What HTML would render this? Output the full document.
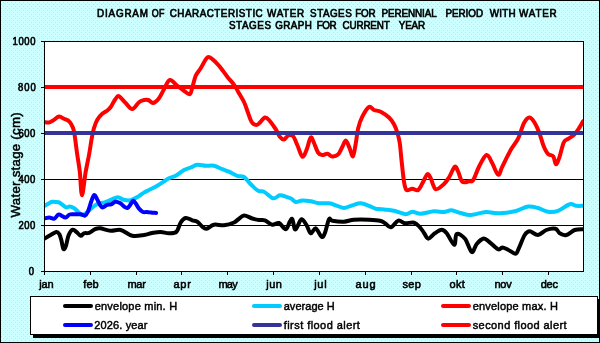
<!DOCTYPE html>
<html><head><meta charset="utf-8"><style>
html,body{margin:0;padding:0;width:600px;height:343px;overflow:hidden;background:#CCFFFF;}
svg{display:block;will-change:transform;}
text{font-family:"Liberation Sans",sans-serif;fill:#000;}
.title{stroke:#000;stroke-width:0.65px;}
.lab{stroke:#000;stroke-width:0.65px;}
.xl{stroke:#000;stroke-width:0.55px;}
.leg{stroke:#000;stroke-width:0.45px;}
.yt{stroke:#000;stroke-width:0.5px;}
</style></head><body>
<svg width="600" height="343" viewBox="0 0 600 343">
<clipPath id="pc"><rect x="45" y="42" width="538" height="229"/></clipPath>
<defs><pattern id="dots" width="4" height="4" patternUnits="userSpaceOnUse"><rect width="4" height="4" fill="#CCFFFF"/><path d="M1,0h1v1h-1zM3,2h1v1h-1z" fill="#BCE8F2"/></pattern></defs>
<rect x="0" y="0" width="600" height="343" fill="url(#dots)"/>
<rect x="0.5" y="0.5" width="599" height="342" fill="none" stroke="#000" stroke-width="1"/>
<rect x="44" y="41" width="539" height="230" fill="#fff"/>
<line x1="41" y1="271.5" x2="583" y2="271.5" stroke="#000" stroke-width="1"/>
<line x1="41" y1="225.5" x2="583" y2="225.5" stroke="#000" stroke-width="1"/>
<line x1="41" y1="179.5" x2="583" y2="179.5" stroke="#000" stroke-width="1"/>
<line x1="41" y1="133.5" x2="583" y2="133.5" stroke="#000" stroke-width="1"/>
<line x1="41" y1="87.5" x2="583" y2="87.5" stroke="#000" stroke-width="1"/>
<line x1="41" y1="41.5" x2="583" y2="41.5" stroke="#000" stroke-width="1"/>
<line x1="44.5" y1="271" x2="44.5" y2="275" stroke="#000" stroke-width="1"/>
<line x1="90.5" y1="271" x2="90.5" y2="275" stroke="#000" stroke-width="1"/>
<line x1="136.5" y1="271" x2="136.5" y2="275" stroke="#000" stroke-width="1"/>
<line x1="181.5" y1="271" x2="181.5" y2="275" stroke="#000" stroke-width="1"/>
<line x1="227.5" y1="271" x2="227.5" y2="275" stroke="#000" stroke-width="1"/>
<line x1="273.5" y1="271" x2="273.5" y2="275" stroke="#000" stroke-width="1"/>
<line x1="319.5" y1="271" x2="319.5" y2="275" stroke="#000" stroke-width="1"/>
<line x1="365.5" y1="271" x2="365.5" y2="275" stroke="#000" stroke-width="1"/>
<line x1="411.5" y1="271" x2="411.5" y2="275" stroke="#000" stroke-width="1"/>
<line x1="456.5" y1="271" x2="456.5" y2="275" stroke="#000" stroke-width="1"/>
<line x1="502.5" y1="271" x2="502.5" y2="275" stroke="#000" stroke-width="1"/>
<line x1="548.5" y1="271" x2="548.5" y2="275" stroke="#000" stroke-width="1"/>
<line x1="44.5" y1="41" x2="44.5" y2="272" stroke="#000" stroke-width="1"/>
<line x1="583.5" y1="41" x2="583.5" y2="272" stroke="#000" stroke-width="1"/>
<g clip-path="url(#pc)">
<path d="M44.6,238.4C45.5,237.9 48.2,236.4 50.2,235.3C52.2,234.2 54.8,232.2 56.3,232.0C57.8,231.8 58.5,232.9 59.4,234.3C60.2,235.7 60.7,237.9 61.4,240.4C62.1,242.9 62.7,248.2 63.5,249.1C64.3,249.9 65.2,247.8 66.0,245.5C66.8,243.2 67.5,237.9 68.6,235.3C69.7,232.7 71.3,230.2 72.7,229.7C74.1,229.2 75.4,231.2 76.7,232.2C78.0,233.2 79.6,235.6 80.8,235.8C82.0,236.0 82.5,233.8 83.9,233.3C85.3,232.8 87.1,233.5 89.0,232.8C90.9,232.1 93.3,230.0 95.1,229.2C96.9,228.4 97.4,227.9 100.0,228.2C102.6,228.5 107.2,230.5 110.7,230.8C114.2,231.1 117.1,229.2 120.7,230.0C124.3,230.8 128.4,235.0 132.3,235.8C136.2,236.6 140.7,235.5 144.0,235.0C147.3,234.5 149.5,233.5 152.3,233.0C155.1,232.5 157.9,231.9 160.7,232.0C163.5,232.1 166.4,233.4 169.0,233.3C171.6,233.2 174.6,233.5 176.5,231.7C178.4,229.9 179.2,224.8 180.7,222.5C182.2,220.2 183.8,218.4 185.7,218.0C187.6,217.6 190.4,219.7 192.3,220.3C194.2,220.9 195.6,220.6 197.3,221.7C199.0,222.8 200.8,225.5 202.3,226.7C203.8,227.9 204.6,229.0 206.5,228.7C208.4,228.4 211.1,225.3 214.0,224.7C216.9,224.1 220.7,225.7 224.0,225.3C227.3,224.9 231.7,223.5 234.0,222.5C236.3,221.5 236.3,220.7 238.0,219.5C239.7,218.3 241.6,215.7 244.0,215.5C246.4,215.3 249.8,217.8 252.3,218.5C254.8,219.2 256.9,219.7 259.0,220.0C261.1,220.3 262.6,219.5 264.8,220.3C267.0,221.1 269.9,224.2 272.3,224.7C274.7,225.1 276.8,222.2 279.0,223.0C281.2,223.8 283.9,229.4 285.7,229.2C287.5,229.0 288.7,223.4 289.8,221.7C290.9,220.0 291.5,217.9 292.3,219.2C293.1,220.4 294.0,227.9 294.8,229.2C295.6,230.4 296.2,228.4 297.3,226.7C298.4,225.0 300.0,219.5 301.5,219.2C303.0,218.9 305.0,222.7 306.5,225.0C308.0,227.3 309.2,232.8 310.7,233.3C312.2,233.9 313.9,227.7 315.7,228.3C317.5,228.9 320.0,235.9 321.5,236.7C323.0,237.5 323.6,236.2 324.8,233.3C326.1,230.4 327.8,221.3 329.0,219.2C330.2,217.1 329.8,220.4 332.3,220.8C334.8,221.2 340.4,221.9 344.0,221.7C347.6,221.5 349.8,220.0 354.0,219.7C358.2,219.4 364.7,219.5 369.0,219.7C373.3,219.9 377.3,220.1 380.0,220.7C382.7,221.3 383.2,222.1 385.0,223.2C386.8,224.3 388.6,227.7 390.8,227.3C393.0,226.9 395.9,221.4 398.3,220.7C400.7,220.0 402.4,222.9 405.0,223.2C407.6,223.5 411.7,222.0 414.2,222.7C416.7,223.4 418.3,225.6 420.0,227.3C421.7,229.1 422.8,231.3 424.2,233.2C425.6,235.1 426.5,238.7 428.3,238.7C430.1,238.7 432.8,234.7 435.0,233.2C437.2,231.7 439.8,229.8 441.7,229.8C443.6,229.8 444.6,230.7 446.7,233.2C448.8,235.7 452.5,244.7 454.2,244.8C455.9,244.9 454.9,235.0 456.7,234.0C458.5,233.0 462.5,235.7 465.0,238.7C467.5,241.7 469.8,251.1 471.7,252.0C473.6,252.9 474.8,246.2 476.7,244.0C478.6,241.8 481.1,239.2 483.0,238.7C484.9,238.2 485.5,239.1 488.0,240.8C490.5,242.6 495.6,248.1 498.0,249.2C500.4,250.3 500.5,247.4 502.2,247.5C503.9,247.6 505.8,248.7 508.0,249.7C510.2,250.7 513.7,253.9 515.5,253.7C517.3,253.5 517.3,251.4 518.8,248.3C520.3,245.2 522.9,237.8 524.7,235.0C526.5,232.2 527.5,231.3 529.7,231.3C531.9,231.3 535.2,235.2 538.0,235.0C540.8,234.8 543.4,231.1 546.3,230.0C549.2,228.9 553.3,228.1 555.5,228.7C557.7,229.2 557.9,232.2 559.7,233.3C561.5,234.4 563.8,235.6 566.3,235.0C568.8,234.4 571.9,231.0 574.7,230.0C577.5,229.0 581.6,229.3 583.0,229.2" stroke="#000" fill="none" stroke-width="4" stroke-linejoin="round" stroke-linecap="round"/>
<path d="M44.5,205.9C45.1,205.6 46.9,204.5 48.2,203.8C49.5,203.1 50.5,202.1 52.2,201.8C53.9,201.6 56.8,201.9 58.4,202.3C60.0,202.7 60.6,203.5 61.9,204.3C63.2,205.2 64.7,207.1 66.0,207.4C67.3,207.8 68.3,206.3 69.6,206.4C70.9,206.5 72.3,207.1 73.7,207.9C75.1,208.8 76.6,210.4 77.8,211.5C79.0,212.6 79.8,214.0 80.8,214.5C81.8,215.0 82.5,215.2 83.9,214.5C85.3,213.8 87.1,211.9 89.0,210.4C90.9,208.9 93.3,206.5 95.1,205.3C96.9,204.1 98.3,203.5 100.0,203.0C101.7,202.5 103.2,202.9 105.1,202.3C107.0,201.8 109.1,200.5 111.2,199.7C113.3,198.8 115.9,197.2 117.9,197.2C120.0,197.2 121.4,199.2 123.5,199.7C125.6,200.2 128.0,200.8 130.6,200.2C133.2,199.6 136.6,197.5 138.8,196.2C141.0,194.9 142.2,193.6 143.9,192.6C145.6,191.6 146.8,191.1 149.0,190.0C151.2,188.9 154.0,187.8 157.3,185.8C160.6,183.9 165.9,180.0 169.0,178.3C172.1,176.6 173.2,177.2 175.7,175.8C178.2,174.4 181.5,171.4 184.0,170.0C186.5,168.6 188.5,168.4 190.7,167.5C192.9,166.6 194.8,165.0 197.3,164.7C199.8,164.4 202.9,165.6 205.7,165.8C208.5,166.0 211.2,165.2 214.0,165.8C216.8,166.4 219.8,168.2 222.3,169.2C224.8,170.2 226.5,170.6 229.0,171.7C231.5,172.8 234.8,174.9 237.3,175.8C239.8,176.7 241.8,175.6 244.0,177.0C246.2,178.4 248.3,181.9 250.7,184.2C253.1,186.5 256.0,189.6 258.2,190.8C260.4,192.1 261.5,190.4 264.0,191.7C266.5,192.9 270.6,197.7 273.2,198.3C275.8,198.9 277.7,195.6 279.8,195.3C281.9,195.0 283.8,196.1 285.7,196.7C287.6,197.3 289.8,197.8 291.5,198.7C293.2,199.6 293.9,201.7 295.7,202.0C297.5,202.3 299.8,200.6 302.3,200.5C304.8,200.4 307.9,200.8 310.7,201.3C313.5,201.8 315.9,203.0 319.0,203.3C322.1,203.6 325.9,202.9 329.0,203.3C332.1,203.7 334.8,205.0 337.3,205.8C339.8,206.6 341.5,208.1 344.0,208.0C346.5,207.9 349.5,206.1 352.3,205.3C355.1,204.5 357.9,203.2 360.7,203.3C363.5,203.4 366.5,204.9 369.0,205.8C371.5,206.7 372.9,208.0 375.7,208.7C378.5,209.3 382.6,209.3 385.7,209.7C388.8,210.0 390.7,210.1 394.0,210.8C397.3,211.6 402.6,214.0 405.7,214.2C408.8,214.3 409.8,211.8 412.3,211.7C414.8,211.6 417.1,213.8 420.7,213.7C424.3,213.6 430.1,211.6 434.0,211.3C437.9,211.0 441.1,212.2 444.0,212.0C446.9,211.8 448.7,210.1 451.5,210.3C454.3,210.5 457.5,212.2 460.7,213.0C463.9,213.8 466.5,215.2 470.7,215.0C474.9,214.8 481.8,212.3 485.7,212.0C489.6,211.7 491.1,212.8 494.0,213.0C496.9,213.2 499.3,213.3 503.0,213.0C506.7,212.7 511.8,212.1 516.0,211.0C520.2,209.9 524.3,207.0 528.0,206.5C531.7,206.0 534.7,207.1 538.0,208.0C541.3,208.9 544.7,211.2 548.0,211.7C551.3,212.2 554.4,212.1 558.0,210.8C561.6,209.6 566.7,205.0 569.7,204.2C572.8,203.4 574.1,205.5 576.3,205.8C578.5,206.1 581.9,205.8 583.0,205.8" stroke="#00CCFF" fill="none" stroke-width="4" stroke-linejoin="round" stroke-linecap="round"/>
<path d="M44.0,122.0C44.8,122.1 47.5,122.8 49.0,122.5C50.5,122.2 51.3,121.5 53.0,120.5C54.7,119.5 57.2,116.8 59.0,116.5C60.8,116.2 62.3,118.0 64.0,118.8C65.7,119.6 67.6,120.0 69.0,121.3C70.4,122.5 71.5,124.6 72.3,126.3C73.1,128.0 73.4,128.5 74.0,131.3C74.6,134.1 75.2,139.1 75.7,143.0C76.2,146.9 76.6,150.2 77.3,155.0C78.0,159.8 79.0,165.0 79.8,171.7C80.6,178.4 81.0,195.2 82.0,195.2C83.0,195.2 84.5,178.4 85.7,171.7C86.9,165.0 88.0,160.3 89.0,155.0C90.0,149.7 90.7,144.2 91.5,139.7C92.3,135.2 93.0,131.3 94.0,128.0C95.0,124.7 95.9,122.1 97.3,119.7C98.7,117.3 100.6,115.3 102.3,113.8C104.0,112.3 105.9,111.6 107.3,110.5C108.7,109.4 109.6,108.5 110.7,107.0C111.8,105.5 112.8,103.1 114.0,101.3C115.2,99.5 116.8,96.5 118.0,96.0C119.2,95.5 119.7,96.8 121.0,98.0C122.3,99.2 123.8,101.2 125.7,103.0C127.6,104.8 130.1,109.1 132.3,109.0C134.5,108.9 137.1,103.7 139.0,102.2C140.9,100.7 142.5,100.4 144.0,100.0C145.5,99.6 146.7,99.5 148.2,100.0C149.7,100.5 151.4,103.3 153.2,103.0C155.0,102.7 157.2,100.6 159.0,98.3C160.8,96.0 162.2,92.2 164.0,89.2C165.8,86.2 167.6,80.6 169.8,80.0C172.0,79.4 174.9,84.0 177.3,85.8C179.7,87.6 181.9,89.4 184.0,90.8C186.1,92.2 188.4,94.8 189.8,94.2C191.2,93.7 191.3,90.6 192.3,87.5C193.3,84.4 194.3,79.0 195.7,75.8C197.1,72.6 198.8,71.3 200.7,68.3C202.6,65.2 205.4,59.0 207.3,57.5C209.2,56.0 210.4,57.8 212.3,59.2C214.2,60.6 216.5,62.9 219.0,65.8C221.5,68.7 224.7,73.4 227.3,76.7C229.9,80.0 232.9,83.0 234.8,85.8C236.8,88.6 237.5,90.6 239.0,93.3C240.5,96.0 242.6,99.1 244.0,102.0C245.4,104.9 246.1,107.5 247.3,110.8C248.6,114.1 250.0,119.3 251.5,121.7C253.0,124.1 255.0,125.0 256.5,125.0C258.0,125.0 259.3,123.0 260.7,121.7C262.1,120.5 263.4,117.8 264.8,117.5C266.2,117.2 267.2,118.0 269.0,120.0C270.8,122.0 273.9,126.4 275.7,129.2C277.5,132.0 278.4,135.0 279.8,136.7C281.2,138.4 282.6,139.7 284.0,139.5C285.4,139.3 286.7,136.1 288.2,135.5C289.7,134.9 291.5,134.4 293.0,136.0C294.5,137.6 295.8,141.6 297.3,145.0C298.9,148.4 300.8,155.9 302.3,156.7C303.8,157.5 305.1,153.2 306.5,150.0C307.9,146.8 309.4,138.7 310.7,137.5C311.9,136.3 312.8,140.5 314.0,143.0C315.2,145.5 316.6,150.5 318.0,152.5C319.4,154.5 320.6,154.9 322.2,155.1C323.8,155.3 325.9,153.5 327.5,153.7C329.1,153.9 330.1,156.2 331.9,156.4C333.6,156.6 336.2,156.2 338.0,154.6C339.8,153.0 341.1,149.0 342.4,146.7C343.7,144.4 344.7,140.4 345.9,140.6C347.1,140.8 348.2,145.0 349.4,147.6C350.6,150.2 351.9,156.8 352.9,156.4C353.9,156.0 354.6,149.7 355.5,145.0C356.4,140.3 357.1,133.0 358.2,128.3C359.3,123.6 360.5,120.2 362.3,116.7C364.1,113.2 367.1,108.1 369.0,107.0C370.9,105.9 372.1,109.2 374.0,110.0C375.9,110.8 378.2,110.5 380.7,111.7C383.2,113.0 386.8,115.4 389.0,117.5C391.2,119.6 392.6,121.7 394.0,124.2C395.4,126.7 396.3,129.3 397.3,132.5C398.3,135.7 399.1,138.7 399.8,143.3C400.5,147.9 400.8,153.6 401.5,160.0C402.2,166.4 403.2,176.7 404.0,181.7C404.8,186.7 405.1,188.8 406.5,190.0C407.9,191.2 410.4,188.7 412.3,188.7C414.2,188.7 416.4,191.2 418.2,190.0C420.0,188.8 421.7,184.3 423.2,181.7C424.7,179.1 426.1,174.8 427.3,174.2C428.6,173.6 429.3,175.8 430.7,178.3C432.1,180.8 433.5,188.2 435.7,189.2C437.9,190.1 441.8,185.9 444.0,184.0C446.2,182.1 447.2,180.4 449.0,177.5C450.8,174.6 453.3,167.7 454.8,166.7C456.3,165.7 456.9,169.2 458.2,171.7C459.4,174.2 460.5,180.1 462.3,181.7C464.1,183.3 467.2,181.6 469.0,181.3C470.8,181.0 471.5,182.4 473.2,180.0C474.9,177.6 476.8,170.9 479.0,166.7C481.2,162.5 484.3,155.6 486.5,155.0C488.7,154.4 490.4,160.0 492.3,163.3C494.2,166.6 496.5,174.1 498.2,174.7C499.9,175.3 500.2,170.8 502.3,166.7C504.4,162.6 508.0,154.7 510.7,150.0C513.4,145.3 516.0,142.8 518.2,138.3C520.4,133.8 522.1,126.5 524.0,123.0C525.9,119.5 527.5,117.6 529.3,117.5C531.0,117.4 532.9,120.0 534.5,122.5C536.1,125.0 537.7,128.6 539.2,132.5C540.7,136.4 542.1,142.3 543.6,145.9C545.1,149.5 546.4,152.1 548.0,153.8C549.6,155.6 552.0,154.7 553.3,156.4C554.6,158.2 554.9,164.2 555.9,164.3C556.9,164.5 558.1,161.0 559.4,157.3C560.7,153.7 562.3,145.5 563.8,142.4C565.2,139.3 566.4,140.2 568.1,138.9C569.9,137.6 572.4,136.4 574.3,134.5C576.2,132.6 578.0,129.7 579.5,127.5C581.0,125.3 582.4,122.4 583.0,121.4" stroke="#FF0000" fill="none" stroke-width="4" stroke-linejoin="round" stroke-linecap="round"/>
<path d="M44.5,218.4C45.3,218.3 47.6,217.6 49.2,217.6C50.8,217.6 52.8,219.1 54.3,218.6C55.8,218.1 57.2,215.0 58.4,214.5C59.6,214.0 60.2,215.1 61.4,215.6C62.6,216.1 64.1,217.8 65.5,217.6C66.9,217.4 68.1,215.1 69.6,214.5C71.1,213.9 72.8,214.3 74.7,214.3C76.6,214.3 79.1,214.1 80.8,214.3C82.5,214.5 83.7,216.1 84.9,215.6C86.1,215.1 87.0,213.7 88.0,211.5C89.0,209.3 90.0,205.0 91.0,202.3C92.0,199.6 93.1,195.6 94.1,195.1C95.1,194.6 96.1,197.5 97.1,199.2C98.1,200.8 99.1,203.6 100.0,205.0C100.9,206.4 101.4,207.5 102.6,207.5C103.8,207.5 105.7,205.3 107.1,204.8C108.5,204.3 109.8,204.8 111.2,204.3C112.6,203.8 113.8,202.0 115.3,201.8C116.8,201.6 118.9,202.5 120.4,203.3C121.9,204.2 123.3,206.1 124.5,206.9C125.7,207.7 126.6,208.3 127.6,207.9C128.6,207.5 129.7,205.5 130.6,204.3C131.5,203.1 132.3,201.0 133.2,200.8C134.0,200.6 134.8,202.0 135.7,203.3C136.6,204.6 137.6,207.0 138.8,208.4C140.0,209.8 141.6,211.4 142.9,212.0C144.2,212.6 145.6,211.9 146.9,212.0C148.2,212.1 149.5,212.3 151.0,212.5C152.5,212.7 155.2,212.9 156.1,213.0" stroke="#0000FF" fill="none" stroke-width="4" stroke-linejoin="round" stroke-linecap="round"/>
</g>
<line x1="45" y1="133" x2="583" y2="133" stroke="#333399" stroke-width="4"/>
<line x1="45" y1="87" x2="583" y2="87" stroke="#FF0000" stroke-width="4"/>
<rect x="33" y="299" width="567" height="39" fill="#000"/>
<rect x="30.5" y="296.5" width="567" height="38" fill="#fff" stroke="#000" stroke-width="1"/>
<text transform="translate(19.70,164.90) rotate(-90)" text-anchor="middle" font-size="13.3" textLength="105.20" lengthAdjust="spacing" class="yt">Water stage (cm)</text>
<text transform="translate(97.04,17) scale(0.94,1)" font-size="10.5" textLength="54.17" lengthAdjust="spacing" class="title">DIAGRAM</text>
<text transform="translate(151.84,17) scale(0.85,1)" font-size="10.5" textLength="14.75" lengthAdjust="spacing" class="title">OF</text>
<text transform="translate(169.70,17) scale(0.94,1)" font-size="10.5" textLength="98.98" lengthAdjust="spacing" class="title">CHARACTERISTIC</text>
<text transform="translate(267.06,17) scale(0.94,1)" font-size="10.5" textLength="39.40" lengthAdjust="spacing" class="title">WATER</text>
<text transform="translate(310.12,17) scale(0.94,1)" font-size="10.5" textLength="44.28" lengthAdjust="spacing" class="title">STAGES</text>
<text transform="translate(355.26,17) scale(0.94,1)" font-size="10.5" textLength="21.70" lengthAdjust="spacing" class="title">FOR</text>
<text transform="translate(381.40,17) scale(0.94,1)" font-size="10.5" textLength="58.94" lengthAdjust="spacing" class="title">PERENNIAL</text>
<text transform="translate(445.40,17) scale(0.94,1)" font-size="10.5" textLength="40.11" lengthAdjust="spacing" class="title">PERIOD</text>
<text transform="translate(489.84,17) scale(0.94,1)" font-size="10.5" textLength="27.55" lengthAdjust="spacing" class="title">WITH</text>
<text transform="translate(519.06,17) scale(0.94,1)" font-size="10.5" textLength="40.00" lengthAdjust="spacing" class="title">WATER</text>
<text transform="translate(228.90,29) scale(0.94,1)" font-size="10.5" textLength="44.89" lengthAdjust="spacing" class="title">STAGES</text>
<text transform="translate(275.26,29) scale(0.94,1)" font-size="10.5" textLength="39.04" lengthAdjust="spacing" class="title">GRAPH</text>
<text transform="translate(316.76,29) scale(0.94,1)" font-size="10.5" textLength="21.17" lengthAdjust="spacing" class="title">FOR</text>
<text transform="translate(342.48,29) scale(0.94,1)" font-size="10.5" textLength="50.34" lengthAdjust="spacing" class="title">CURRENT</text>
<text transform="translate(398.70,29) scale(0.94,1)" font-size="10.5" textLength="28.23" lengthAdjust="spacing" class="title">YEAR</text>
<text transform="translate(12.62,45) scale(0.9,1)" font-size="10.5" textLength="25.44" lengthAdjust="spacing" class="lab">1000</text>
<text transform="translate(18.12,91) scale(0.9,1)" font-size="10.5" textLength="19.58" lengthAdjust="spacing" class="lab">800</text>
<text transform="translate(18.48,137) scale(0.9,1)" font-size="10.5" textLength="18.53" lengthAdjust="spacing" class="lab">600</text>
<text transform="translate(18.38,183) scale(0.9,1)" font-size="10.5" textLength="18.76" lengthAdjust="spacing" class="lab">400</text>
<text transform="translate(18.48,229) scale(0.9,1)" font-size="10.5" textLength="18.53" lengthAdjust="spacing" class="lab">200</text>
<text transform="translate(28.76,275) scale(0.9,1)" font-size="10.5" textLength="30.47" lengthAdjust="spacing" class="lab">0</text>
<text x="39.14" y="288" font-size="11" textLength="14.60" lengthAdjust="spacing" class="xl">jan</text>
<text x="83.34" y="288" font-size="11" textLength="15.40" lengthAdjust="spacing" class="xl">feb</text>
<text x="127.40" y="288" font-size="11" textLength="18.40" lengthAdjust="spacing" class="xl">mar</text>
<text x="173.40" y="288" font-size="11" textLength="17.40" lengthAdjust="spacing" class="xl">apr</text>
<text x="218.40" y="288" font-size="11" textLength="19.40" lengthAdjust="spacing" class="xl">may</text>
<text x="266.20" y="288" font-size="11" textLength="15.68" lengthAdjust="spacing" class="xl">jun</text>
<text x="314.20" y="288" font-size="11" textLength="12.40" lengthAdjust="spacing" class="xl">jul</text>
<text x="355.40" y="288" font-size="11" textLength="20.20" lengthAdjust="spacing" class="xl">aug</text>
<text x="402.40" y="288" font-size="11" textLength="18.40" lengthAdjust="spacing" class="xl">sep</text>
<text x="449.40" y="288" font-size="11" textLength="15.40" lengthAdjust="spacing" class="xl">okt</text>
<text x="494.40" y="288" font-size="11" textLength="17.40" lengthAdjust="spacing" class="xl">nov</text>
<text x="540.70" y="288" font-size="11" textLength="17.18" lengthAdjust="spacing" class="xl">dec</text>
<text x="94.70" y="310" font-size="11" textLength="82.40" lengthAdjust="spacing" class="leg">envelope min. H</text>
<text x="283.70" y="310" font-size="11" textLength="51.04" lengthAdjust="spacing" class="leg">average H</text>
<text x="472.70" y="310" font-size="11" textLength="85.18" lengthAdjust="spacing" class="leg">envelope max. H</text>
<text x="94.26" y="329" font-size="11" textLength="53.18" lengthAdjust="spacing" class="leg">2026. year</text>
<text x="283.70" y="329" font-size="11" textLength="76.18" lengthAdjust="spacing" class="leg">first flood alert</text>
<text x="472.70" y="329" font-size="11" textLength="93.96" lengthAdjust="spacing" class="leg">second flood alert</text>
<line x1="65" y1="306" x2="91" y2="306" stroke="#000" stroke-width="4" stroke-linecap="round"/>
<line x1="254" y1="306" x2="280" y2="306" stroke="#00CCFF" stroke-width="4" stroke-linecap="round"/>
<line x1="443" y1="306" x2="469" y2="306" stroke="#FF0000" stroke-width="4" stroke-linecap="round"/>
<line x1="65" y1="325" x2="91" y2="325" stroke="#0000FF" stroke-width="4" stroke-linecap="round"/>
<line x1="254" y1="325" x2="280" y2="325" stroke="#333399" stroke-width="4" stroke-linecap="round"/>
<line x1="443" y1="325" x2="469" y2="325" stroke="#FF0000" stroke-width="4" stroke-linecap="round"/>
</svg>
</body></html>
